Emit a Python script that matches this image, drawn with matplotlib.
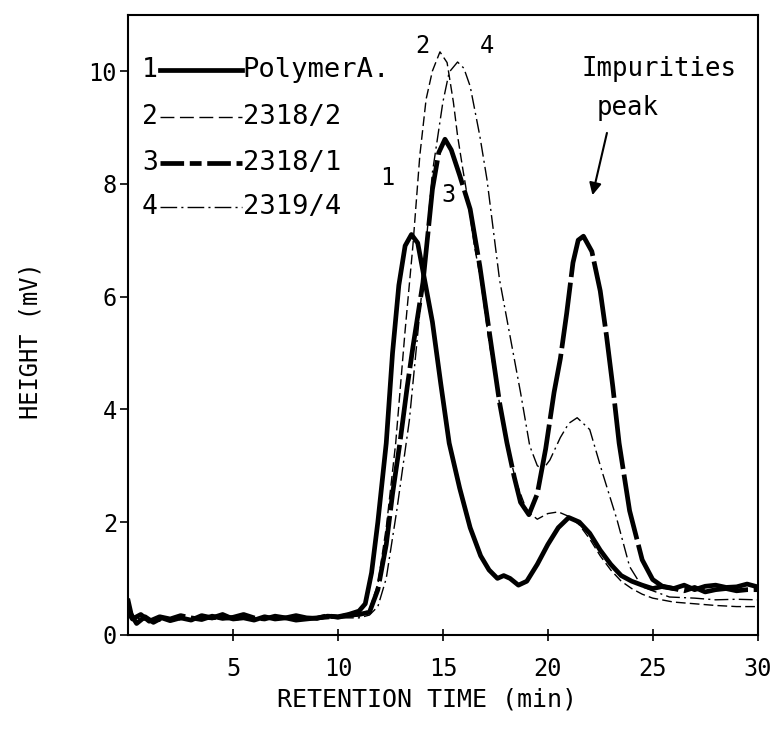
import matplotlib
matplotlib.use("Agg")
import matplotlib.pyplot as plt

# retention time (min) / height (mV)
t_poly = [0, 0.15, 0.4, 0.8, 1.2, 1.6, 2.0, 2.5, 3.0, 3.5, 4.0, 4.5, 5.0, 5.5, 6.0, 6.5,
          7.0, 7.5, 8.0, 8.5, 9.0, 9.5, 10.0, 10.5, 11.0, 11.3, 11.6, 11.9, 12.3, 12.6,
          12.9, 13.2, 13.5, 13.8, 14.1, 14.5, 14.9, 15.3, 15.8, 16.3, 16.8, 17.2, 17.6,
          17.9, 18.2, 18.6, 19.0, 19.5, 20.0, 20.5, 21.0, 21.5, 22.0, 22.5, 23.0, 23.5,
          24.0, 24.5, 25.0, 25.5, 26.0, 26.5, 27.0, 27.5, 28.0, 28.5, 29.0, 29.5, 30.0]
h_poly = [0.6, 0.35, 0.2, 0.32, 0.22, 0.3, 0.25, 0.3, 0.26, 0.34, 0.3, 0.36, 0.28, 0.3,
          0.26, 0.32, 0.28, 0.3, 0.26, 0.28, 0.3, 0.33, 0.32, 0.36, 0.42, 0.55, 1.1, 2.0,
          3.4, 5.0, 6.2, 6.9, 7.1, 6.95, 6.35, 5.55, 4.45, 3.4, 2.6, 1.9, 1.4, 1.15, 1.0,
          1.05, 1.0, 0.88, 0.95, 1.25, 1.6, 1.9, 2.08, 2.0, 1.8, 1.5, 1.25, 1.05, 0.95,
          0.88, 0.82, 0.86, 0.82, 0.88, 0.8, 0.86, 0.88, 0.84, 0.85, 0.9, 0.85]

t_2318_2 = [0, 0.3, 0.8, 1.5, 2.2, 3.0, 4.0, 5.0, 6.0, 7.0, 8.0, 9.0, 10.0, 11.0, 11.5,
            11.9, 12.3, 12.75, 13.2, 13.57, 13.9, 14.2, 14.5, 14.86, 15.2, 15.5, 15.7,
            15.95, 16.2, 16.5, 16.8, 17.2, 17.7, 18.1, 18.5, 19.0, 19.5, 20.0, 20.5, 21.0,
            21.5, 22.0, 22.5, 23.0, 23.5, 24.0, 24.5, 25.0, 26.0, 27.0, 28.0, 29.0, 30.0]
h_2318_2 = [0.45, 0.3, 0.26, 0.3, 0.25, 0.3, 0.27, 0.32, 0.28, 0.3, 0.27, 0.3, 0.3, 0.33,
            0.45, 0.9, 1.9, 3.4, 5.4, 6.9, 8.5, 9.5, 10.0, 10.34, 10.15, 9.45, 8.85, 8.26,
            7.7, 6.9, 6.3, 5.2, 4.1, 3.3, 2.7, 2.2, 2.05, 2.15, 2.18, 2.1, 1.95, 1.7, 1.4,
            1.15, 0.95, 0.82, 0.72, 0.65, 0.58, 0.55, 0.52, 0.5, 0.5]

t_2318_1 = [0, 0.2, 0.6, 1.0, 1.5, 2.0, 2.5, 3.0, 3.5, 4.0, 4.5, 5.0, 5.5, 6.0, 6.5, 7.0,
            7.5, 8.0, 8.5, 9.0, 9.5, 10.0, 10.5, 11.0, 11.5, 11.9, 12.3, 12.6, 12.95,
            13.3, 13.57, 14.05, 14.5, 14.8, 15.1, 15.4, 15.8, 16.3, 16.76, 17.24, 17.7,
            18.05, 18.4, 18.7, 19.1, 19.5, 19.9, 20.3, 20.6, 20.9, 21.2, 21.45, 21.7,
            22.1, 22.5, 22.8, 23.1, 23.4, 23.9, 24.5, 25.0, 25.5, 26.0, 26.5, 27.0, 27.5,
            28.0, 28.5, 29.0, 29.5, 30.0]
h_2318_1 = [0.4, 0.28, 0.36, 0.24, 0.32, 0.28, 0.34, 0.3, 0.27, 0.33, 0.29, 0.31, 0.36,
            0.3, 0.28, 0.33, 0.3, 0.34, 0.3, 0.29, 0.34, 0.31, 0.35, 0.36, 0.4, 0.8, 1.6,
            2.5, 3.4, 4.4, 5.1, 6.25, 7.9, 8.55, 8.79, 8.6, 8.15, 7.55, 6.54, 5.3, 4.12,
            3.41, 2.8, 2.35, 2.13, 2.5, 3.3, 4.3, 4.9, 5.7, 6.6, 7.0, 7.07, 6.8, 6.1, 5.3,
            4.4, 3.4, 2.2, 1.33, 0.98, 0.85, 0.82, 0.78, 0.84, 0.76, 0.8, 0.82, 0.78, 0.8,
            0.8]

t_2319_4 = [0, 0.3, 0.8, 1.5, 2.2, 3.0, 4.0, 5.0, 6.0, 7.0, 8.0, 9.0, 10.0, 11.0, 11.5,
            11.9, 12.3, 12.8, 13.4, 14.05, 14.5, 15.0, 15.3, 15.7, 16.0, 16.3, 16.76,
            17.1, 17.7, 18.2, 18.7, 19.14, 19.5, 19.76, 20.1, 20.6, 21.0, 21.4, 22.0,
            22.6, 23.3, 23.9, 24.5, 25.8, 27.0, 28.0, 29.0, 30.0]
h_2319_4 = [0.5, 0.32, 0.28, 0.24, 0.3, 0.27, 0.3, 0.26, 0.3, 0.28, 0.31, 0.27, 0.3, 0.3,
            0.35, 0.5, 1.0, 2.2, 3.8, 6.3, 8.2, 9.45, 9.98, 10.16, 10.05, 9.73, 8.85,
            8.08, 6.3, 5.3, 4.3, 3.35, 3.0, 2.93, 3.1, 3.5, 3.75, 3.85, 3.64, 2.88, 2.04,
            1.21, 0.85, 0.67, 0.65, 0.62, 0.63, 0.62]

labels = ["PolymerA.", "2318/2", "2318/1", "2319/4"]
x_ticks = [5, 10, 15, 20, 25, 30]
y_ticks = [0, 2, 4, 6, 8, 10]

mono = "DejaVu Sans Mono"
fig = plt.figure(figsize=(7.77, 7.33), dpi=100)
ax = fig.add_axes([0.165, 0.134, 0.81, 0.846])

styles = [
    dict(color="black", lw=3.4, ls="-"),
    dict(color="black", lw=1.0, ls=(0, (7, 3))),
    dict(color="black", lw=3.4, ls=(0, (14, 1.2))),
    dict(color="black", lw=1.0, ls=(0, (10, 3, 1.5, 3))),
]
# legend samples use a slightly different dash rhythm
legend_ls = ["-", (0, (10, 4)), (0, (5, 1.2, 2.5, 1.2)), (0, (12, 3, 1.5, 3))]

series = [(t_poly, h_poly), (t_2318_2, h_2318_2), (t_2318_1, h_2318_1), (t_2319_4, h_2319_4)]
for (t, h), st in zip(series, styles):
    ax.plot(t, h, solid_joinstyle="round", dash_joinstyle="round", **st)

ax.set_xlim(0, 30)
ax.set_ylim(0, 11.0)
ax.set_xticks(x_ticks)
ax.set_yticks(y_ticks)
ax.tick_params(axis="x", direction="inout", length=8, width=1.2, labelsize=17, pad=12)
ax.tick_params(axis="y", direction="out", length=6, width=1.2, labelsize=17, pad=2)
for lab in ax.get_xticklabels() + ax.get_yticklabels():
    lab.set_family(mono)
for sp in ax.spines.values():
    sp.set_linewidth(1.5)

ax.set_xlabel("RETENTION TIME (min)", family=mono, fontsize=18)
ax.xaxis.set_label_coords(0.475, -0.085)
ax.set_ylabel("HEIGHT (mV)", family=mono, fontsize=17)
ax.yaxis.set_label_coords(-0.136, 0.475)

# legend: number, line sample, name
rows_y = [0.91, 0.835, 0.76, 0.69]
for i, (name, st) in enumerate(zip(labels, styles)):
    y = rows_y[i]
    ax.text(0.022, y, str(i + 1), transform=ax.transAxes, family=mono, fontsize=19,
            va="center", ha="left")
    ax.plot([0.05, 0.181], [y, y], transform=ax.transAxes, color="black",
            lw=st["lw"], ls=legend_ls[i])
    ax.text(0.182, y, name, transform=ax.transAxes, family=mono, fontsize=19.5,
            va="center", ha="left")

# curve numbers
ax.text(12.35, 8.1, "1", family=mono, fontsize=17, ha="center", va="center")
ax.text(14.0, 10.45, "2", family=mono, fontsize=17, ha="center", va="center")
ax.text(15.25, 7.8, "3", family=mono, fontsize=17, ha="center", va="center")
ax.text(17.1, 10.45, "4", family=mono, fontsize=17, ha="center", va="center")

ax.text(25.3, 10.03, "Impurities", family=mono, fontsize=18.5, ha="center", va="center")
ax.text(23.8, 9.35, "peak", family=mono, fontsize=18.5, ha="center", va="center")
ax.annotate("", xy=(22.1, 7.75), xytext=(22.85, 8.95),
            arrowprops=dict(arrowstyle="-|>", color="black", lw=1.5, mutation_scale=18))

fig.savefig("out.png", dpi=100)
